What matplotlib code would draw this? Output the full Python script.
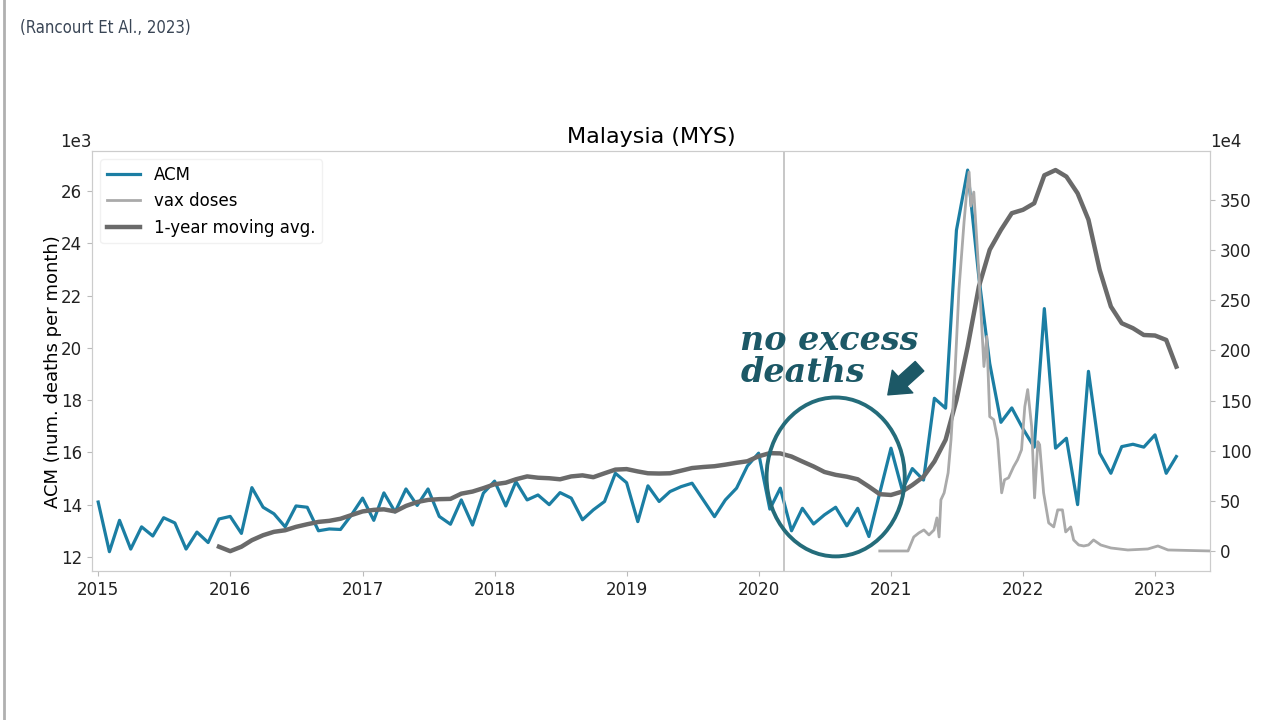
import numpy as np
import pandas as pd
import matplotlib
matplotlib.use('Agg')
import matplotlib.pyplot as plt
import matplotlib.dates as mdates
from matplotlib.patches import Ellipse
from matplotlib.lines import Line2D

# monthly all-cause mortality (thousands of deaths), Jan 2015 - Mar 2023
months = pd.date_range('2015-01-01', '2023-03-01', freq='MS')
acm_k = [
    14.1, 12.2, 13.4, 12.3, 13.15, 12.8, 13.5, 13.3, 12.3, 12.95, 12.55, 13.45,
    13.55, 12.9, 14.65, 13.9, 13.65, 13.15, 13.95, 13.9, 13.0, 13.07, 13.05, 13.6,
    14.25, 13.4, 14.45, 13.72, 14.6, 13.97, 14.6, 13.55, 13.25, 14.18, 13.22, 14.44,
    14.9, 13.95, 14.88, 14.18, 14.37, 14.0, 14.46, 14.25, 13.42, 13.8, 14.12, 15.2,
    14.84, 13.35, 14.72, 14.12, 14.5, 14.69, 14.82, 14.18, 13.54, 14.18, 14.63, 15.48,
    15.97, 13.83, 14.63, 13.0, 13.86, 13.26, 13.61, 13.9, 13.19, 13.86, 12.78, 14.45,
    16.16, 14.56, 15.38, 14.94, 18.07, 17.69, 24.5, 26.8, 22.7, 19.4, 17.15, 17.7,
    16.9, 16.2, 21.5, 16.16, 16.54, 14.0, 19.1, 15.97, 15.2, 16.22, 16.31, 16.2,
    16.67, 15.2, 15.84,
]

# 1-year moving average (thousands), Dec 2015 - Mar 2023
avg_months = pd.date_range('2015-12-01', '2023-03-01', freq='MS')
avg_k = [
    12.39,
    12.22, 12.39, 12.64, 12.83, 12.96, 13.02, 13.15, 13.25, 13.34, 13.38, 13.46, 13.6,
    13.74, 13.8, 13.82, 13.74, 13.95, 14.1, 14.18, 14.21, 14.22, 14.42, 14.5, 14.63,
    14.78, 14.84, 14.97, 15.08, 15.03, 15.01, 14.97, 15.08, 15.12, 15.05, 15.2, 15.34,
    15.36, 15.27, 15.2, 15.19, 15.2, 15.3, 15.4, 15.44, 15.47, 15.53, 15.6, 15.66,
    15.85, 15.97, 15.96, 15.84, 15.65, 15.46, 15.25, 15.14, 15.07, 14.97, 14.69, 14.4,
    14.37, 14.5, 14.75, 15.07, 15.65, 16.48, 18.0, 20.04, 22.34, 23.75, 24.51, 25.15,
    25.28, 25.53, 26.6, 26.8, 26.55, 25.91, 24.9, 22.98, 21.58, 20.94, 20.75, 20.49,
    20.47, 20.3, 19.28,
]

# vaccine doses (units of 1e4)
vax_dates = [
    '2020-12-01', '2021-02-17', '2021-03-05', '2021-03-19', '2021-04-02', '2021-04-16',
    '2021-04-30', '2021-05-08', '2021-05-14', '2021-05-19', '2021-05-28', '2021-06-08',
    '2021-06-16', '2021-06-27', '2021-07-08', '2021-07-22', '2021-07-30', '2021-08-05',
    '2021-08-10', '2021-08-18', '2021-08-29', '2021-09-06', '2021-09-15', '2021-09-23',
    '2021-10-01', '2021-10-12', '2021-10-23', '2021-11-03', '2021-11-11', '2021-11-22',
    '2021-12-06', '2021-12-17', '2021-12-28', '2022-01-06', '2022-01-14', '2022-01-25',
    '2022-02-02', '2022-02-11', '2022-02-16', '2022-02-27', '2022-03-13', '2022-03-27',
    '2022-04-07', '2022-04-20', '2022-04-29', '2022-05-13', '2022-05-21', '2022-06-04',
    '2022-06-18', '2022-07-01', '2022-07-15', '2022-08-04', '2022-09-01', '2022-10-18',
    '2022-12-12', '2023-01-09', '2023-02-06', '2023-06-05',
]
vax_1e4 = [
    0, 0, 14, 18, 21, 16,
    21, 33, 14, 51, 58, 78,
    111, 178, 261, 328, 361, 378,
    344, 358, 294, 244, 184, 214,
    134, 131, 111, 58, 71, 73,
    84, 91, 101, 144, 161, 124,
    53, 109, 106, 58, 28, 24,
    41, 41, 19, 24, 11, 6,
    5, 6, 11, 6, 3, 1,
    2, 5, 1, 0,
]

acm_color = '#1b7ea3'
avg_color = '#6a6a6a'
vax_color = '#aaaaaa'
note_color = '#1c5866'

fig = plt.figure(figsize=(12.8, 7.2), dpi=100)
ax = fig.add_axes([0.0719, 0.2069, 0.8734, 0.5834])
ax2 = ax.twinx()

l_acm, = ax.plot(months, np.array(acm_k) * 1000, color=acm_color, lw=2.3, label='ACM')
l_avg, = ax.plot(avg_months, np.array(avg_k) * 1000, color=avg_color, lw=3.2,
                 label='1-year moving avg.')
l_vax, = ax2.plot(pd.to_datetime(vax_dates), np.array(vax_1e4) * 1e4, color=vax_color,
                  lw=2.0, label='vax doses')
ax.axvline(pd.Timestamp('2020-03-11'), color='#bdbdbd', lw=1.2)

ax.set_xlim(pd.Timestamp('2014-12-15'), pd.Timestamp('2023-06-02'))
ax.set_ylim(11460, 27530)
ax2.set_ylim(-200000, 3990000)

ax.xaxis.set_major_locator(mdates.YearLocator())
ax.xaxis.set_major_formatter(mdates.DateFormatter('%Y'))
ax.ticklabel_format(axis='y', style='sci', scilimits=(3, 3))
ax2.ticklabel_format(axis='y', style='sci', scilimits=(4, 4))

for a in (ax, ax2):
    a.tick_params(labelsize=12, color='#bbbbbb', labelcolor='#222222')
    a.yaxis.get_offset_text().set_fontsize(12)
    for s in a.spines.values():
        s.set_color('#cccccc')
ax.yaxis.get_offset_text().set_horizontalalignment('right')
ax2.yaxis.get_offset_text().set_horizontalalignment('left')

ax.set_title('Malaysia (MYS)', fontsize=16)
ax.set_ylabel('ACM (num. deaths per month)', fontsize=13)
ax.yaxis.set_label_coords(-0.027, 0.474)

ax2.legend([l_acm, l_vax, l_avg], ['ACM', 'vax doses', '1-year moving avg.'],
           loc='upper left', fontsize=12, edgecolor='#eeeeee')

# annotation: circle, text and arrow
ax.add_patch(Ellipse((mdates.date2num(pd.Timestamp('2020-08-01')), 15060),
                     width=382, height=6080, fill=False, ec='#246c7a', lw=2.8, zorder=5))
ax2.text(0.58, 0.526, 'no excess', transform=ax2.transAxes, fontsize=24,
         family='DejaVu Serif', style='italic', weight='bold', color=note_color,
         va='baseline', ha='left')
ax2.text(0.58, 0.451, 'deaths', transform=ax2.transAxes, fontsize=24,
         family='DejaVu Serif', style='italic', weight='bold', color=note_color,
         va='baseline', ha='left')
ax2.annotate('', xy=(0.710, 0.415), xytext=(0.742, 0.492), xycoords='axes fraction',
             arrowprops=dict(arrowstyle='simple,head_length=0.65,head_width=1.0,tail_width=0.42',
                             color=note_color, mutation_scale=22))

fig.text(0.0156, 0.961, '(Rancourt Et Al., 2023)', fontsize=12,
         family='DejaVu Sans', stretch='condensed', color='#3a4656', va='center')
fig.add_artist(Line2D([0.003, 0.003], [0, 1], color='#b0b0b0', lw=2))

fig.savefig('out.png', dpi=100)
